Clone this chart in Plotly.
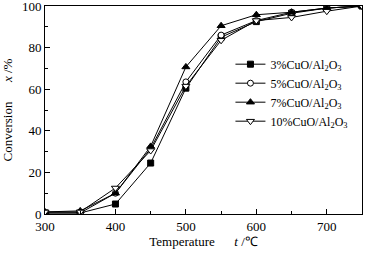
import plotly.graph_objects as go

temps = [300, 350, 400, 450, 500, 550, 600, 650, 700, 750]
cuo3 = [0.5, 0.5, 4.8, 24.5, 60.5, 85, 92.5, 96.5, 99, 100]
cuo5 = [0.5, 0.5, 10, 31.5, 63.5, 86, 93, 97, 99, 100]
cuo7 = [1, 1.5, 10, 32.5, 70.7, 90.5, 95.8, 97, 99, 100]
cuo10 = [1, 1, 12.5, 30.5, 61.5, 83.5, 93, 94.5, 97.5, 100]

names = ["3%CuO/Al<sub>2</sub>O<sub>3</sub>", "5%CuO/Al<sub>2</sub>O<sub>3</sub>",
         "7%CuO/Al<sub>2</sub>O<sub>3</sub>", "10%CuO/Al<sub>2</sub>O<sub>3</sub>"]
series = [cuo3, cuo5, cuo7, cuo10]
symbols = ["square", "circle", "triangle-up", "triangle-down"]
fills = ["black", "white", "black", "white"]
sizes = [6, 6, 7, 7]

FONT = "Liberation Serif, Times New Roman, serif"

fig = go.Figure()
for n, s, sym, fc, sz in zip(names, series, symbols, fills, sizes):
    fig.add_trace(go.Scatter(
        x=temps, y=s, name=n, mode="lines+markers",
        line=dict(color="black", width=1),
        marker=dict(symbol=sym, size=sz, color=fc, line=dict(color="black", width=1)),
    ))

axis_common = dict(showgrid=False, zeroline=False, showline=True, linecolor="black",
                   linewidth=1, mirror=True, ticks="inside", ticklen=5, tickcolor="black",
                   automargin=False, ticklabeloverflow="allow",
                   tickfont=dict(family=FONT, size=13, color="black"))

fig.update_xaxes(range=[300, 750], tickvals=[300, 400, 500, 600, 700],
                 minor=dict(tickvals=[350, 450, 550, 650], ticks="inside", ticklen=3, tickcolor="black"),
                 title=dict(text="Temperature&nbsp;&nbsp;&nbsp;&nbsp;&nbsp;&nbsp;<i>t</i> /℃",
                            font=dict(family=FONT, size=13, color="black"), standoff=2),
                 **axis_common)
fig.update_yaxes(range=[0, 100], tickvals=[0, 20, 40, 60, 80, 100],
                 minor=dict(tickvals=[10, 30, 50, 70, 90], ticks="inside", ticklen=3, tickcolor="black"),
                 title=dict(text="Conversion&nbsp;&nbsp;&nbsp;&nbsp;&nbsp;&nbsp;<i>x</i> /%",
                            font=dict(family=FONT, size=13, color="black"), standoff=8),
                 **axis_common)

fig.update_layout(
    width=371, height=253,
    margin=dict(l=45, r=9, t=6, b=39),
    plot_bgcolor="white", paper_bgcolor="white",
    font=dict(family=FONT, size=13, color="black"),
    legend=dict(x=0.585, y=0.79, xanchor="left", yanchor="top", bgcolor="rgba(0,0,0,0)",
                font=dict(family=FONT, size=12, color="black"), tracegroupgap=0,
                itemwidth=30),
)

fig.write_html("out.html", config={"displayModeBar": False},
               post_script="document.body.style.margin='0';document.body.style.padding='0';")
